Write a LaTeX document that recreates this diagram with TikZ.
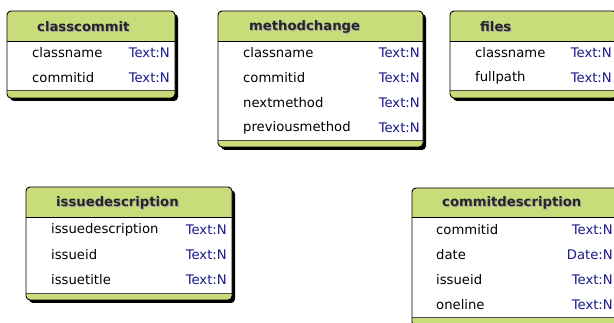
\documentclass[tikz,border=0pt]{standalone}
\usepackage{fontspec}
\setmainfont{DejaVu Sans}
\definecolor{hdrgreen}{RGB}{200,221,122}
\definecolor{typeblue}{RGB}{25,25,140}

% one table: #1 name, #2 left, #3 top, #4 right, #5 header line, #6 footer line, #7 bottom, #8 title x
\newcommand{\erbox}[8]{%
  \fill[black,rounded corners=4] (#2+3,#3+3) rectangle (#4+3,#7+3);
  \fill[rounded corners=4,hdrgreen] (#2,#3) rectangle (#4,#7);
  \fill[white] (#2,#5) rectangle (#4,#6);
  \draw[line width=0.8pt] (#2,#5) -- (#4,#5);
  \draw[black!70,line width=0.8pt] (#2,#6) -- (#4,#6);
  \draw[rounded corners=4,line width=0.9pt] (#2,#3) rectangle (#4,#7);
  \node[title,text=black!35] at (#8+1,{(#3+#5)/2+1.5}) {#1};
  \node[title,text=black!85] (#1) at (#8,{(#3+#5)/2+0.5}) {#1};
}

\begin{document}
\begin{tikzpicture}[x=1pt,y=-1pt,
    title/.style={anchor=west,inner sep=0pt,font=\fontsize{13.2}{15}\selectfont\bfseries},
    field/.style={anchor=west,inner sep=0pt,font=\fontsize{13.2}{15}\selectfont},
    ftype/.style={anchor=east,inner sep=0pt,text=typeblue,font=\fontsize{13.2}{15}\selectfont}]
\useasboundingbox[fill=white] (0,0) rectangle (614,323);

% classcommit
\erbox{classcommit}{7}{11}{175}{41}{90}{98}{37}
\foreach \N/\T [count=\i] in {classname/Text:N,commitid/Text:N} {
  \node[field] (cc-\N) at (32,28+25*\i) {\N};
  \node[ftype] (cc-\N-t) at (170,28+25*\i) {\T};
}

% methodchange
\erbox{methodchange}{218}{11}{423}{41}{140}{147}{249}
\foreach \N/\T [count=\i] in {classname/Text:N,commitid/Text:N,nextmethod/Text:N,previousmethod/Text:N} {
  \node[field] (mc-\N) at (243,28+25*\i) {\N};
  \node[ftype] (mc-\N-t) at (420,28+25*\i) {\T};
}

% files
\erbox{files}{450}{11}{617}{41}{90}{98}{480}
\foreach \N/\T [count=\i] in {classname/Text:N,fullpath/Text:N} {
  \node[field] (fi-\N) at (475,28+25*\i) {\N};
  \node[ftype] (fi-\N-t) at (612,28+25*\i) {\T};
}

% issuedescription
\erbox{issuedescription}{26}{187}{232}{217}{293}{300}{56}
\foreach \N/\T [count=\i] in {issuedescription/Text:N,issueid/Text:N,issuetitle/Text:N} {
  \node[field] (id-\N) at (51,205+25*\i) {\N};
  \node[ftype] (id-\N-t) at (227,205+25*\i) {\T};
}

% commitdescription
\erbox{commitdescription}{412}{188}{618}{217}{317}{326}{442}
\foreach \N/\T [count=\i] in {commitid/Text:N,date/Date:N,issueid/Text:N,oneline/Text:N} {
  \node[field] (cd-\N) at (436,205+25*\i) {\N};
  \node[ftype] (cd-\N-t) at (613,205+25*\i) {\T};
}
\end{tikzpicture}
\end{document}
